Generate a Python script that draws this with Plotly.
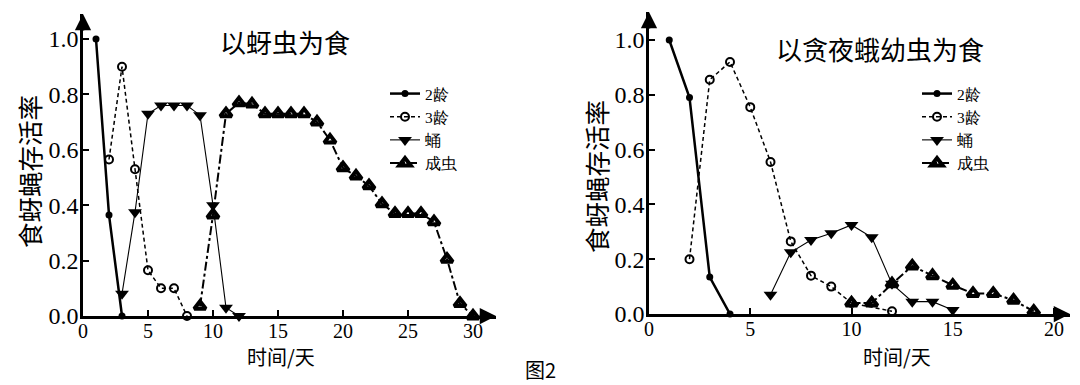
import plotly.graph_objects as go

# ---------------- data ----------------
# Left panel: fed on aphids (以蚜虫为食)
L_days_2 = [1, 2, 3]
L_vals_2 = [1.0, 0.365, 0.0]
L_days_3 = [2, 3, 4, 5, 6, 7, 8]
L_vals_3 = [0.565, 0.90, 0.53, 0.165, 0.10, 0.10, 0.0]
L_days_pupa = [3, 4, 5, 6, 7, 8, 9, 10, 11, 12]
L_vals_pupa = [0.08, 0.375, 0.73, 0.76, 0.76, 0.76, 0.725, 0.40, 0.03, 0.0]
L_days_adult = list(range(9, 31))
L_vals_adult = [0.035, 0.365, 0.73, 0.77, 0.765, 0.73, 0.73, 0.73, 0.73, 0.70, 0.635,
                0.535, 0.505, 0.47, 0.405, 0.37, 0.37, 0.37, 0.34, 0.205, 0.045, 0.0]

# Right panel: fed on fall armyworm larvae (以贪夜蛾幼虫为食)
R_days_2 = [1, 2, 3, 4]
R_vals_2 = [1.0, 0.79, 0.135, 0.0]
R_days_3 = [2, 3, 4, 5, 6, 7, 8, 9, 10, 12]
R_vals_3 = [0.2, 0.855, 0.92, 0.755, 0.555, 0.265, 0.14, 0.10, 0.04, 0.01]
R_days_pupa = [6, 7, 8, 9, 10, 11, 12, 13, 14, 15]
R_vals_pupa = [0.07, 0.225, 0.27, 0.295, 0.325, 0.28, 0.11, 0.045, 0.045, 0.015]
R_days_adult = [10, 11, 12, 13, 14, 15, 16, 17, 18, 19]
R_vals_adult = [0.04, 0.04, 0.11, 0.175, 0.14, 0.105, 0.075, 0.075, 0.05, 0.01]

series_names = ["2龄", "3龄", "蛹", "成虫"]
x_ticks_left = [0, 5, 10, 15, 20, 25, 30]
x_ticks_right = [0, 5, 10, 15, 20]
y_ticks = [0.0, 0.2, 0.4, 0.6, 0.8, 1.0]
titles = ["以蚜虫为食", "以贪夜蛾幼虫为食"]
y_label = "食蚜蝇存活率"
x_label = "时间/天"
fig_label = "图2"

# ---------------- styling ----------------
OFF = 8  # page body margin of the html page
W, H = 1080 - OFF, 385 - OFF
SERIF = "Liberation Serif"
CJK = "Noto Sans CJK SC"

styles = [
    dict(line=dict(color="black", width=2.5, dash="solid"),
         marker=dict(symbol="circle", size=7, color="black")),
    dict(line=dict(color="black", width=1.5, dash="4px,3px"),
         marker=dict(symbol="circle-open", size=8, color="black", line=dict(width=2, color="black"))),
    dict(line=dict(color="black", width=1.1, dash="solid"),
         marker=dict(symbol="triangle-down", size=12, color="black")),
    dict(line=dict(color="black", width=2, dash="dashdot"),
         marker=dict(symbol="triangle-up-open", size=10, color="black", line=dict(width=4, color="black"))),
]

fig = go.Figure()

left_data = [(L_days_2, L_vals_2), (L_days_3, L_vals_3), (L_days_pupa, L_vals_pupa), (L_days_adult, L_vals_adult)]
right_data = [(R_days_2, R_vals_2), (R_days_3, R_vals_3), (R_days_pupa, R_vals_pupa), (R_days_adult, R_vals_adult)]

for (xs, ys), name, st in zip(left_data, series_names, styles):
    fig.add_trace(go.Scatter(x=xs, y=ys, name=name, mode="lines+markers", xaxis="x", yaxis="y",
                             legend="legend", cliponaxis=False, **st))
for (xs, ys), name, st in zip(right_data, series_names, styles):
    fig.add_trace(go.Scatter(x=xs, y=ys, name=name, mode="lines+markers", xaxis="x2", yaxis="y2",
                             legend="legend2", cliponaxis=False, **st))


def px_x(p):
    return (p - OFF) / W


def px_y(p):
    return 1 - (p - OFF) / H


L_x0, L_ppd = 83, 13.0
L_xend = 496
L_y0, L_ppu, L_ytop = 316, 277.0, 14
R_x0, R_ppd = 649, 20.25
R_xend = 1070
R_y0, R_ppu, R_ytop = 314, 274.0, 12

base_axis = dict(showline=True, linecolor="black", showgrid=False, zeroline=False,
                 ticks="inside", tickcolor="black", tickwidth=2, ticklen=6, automargin=False)
xfont = dict(family=SERIF, size=20, color="black")
yfont = dict(family=SERIF, size=24, color="black")

fig.update_layout(
    width=W, height=H,
    margin=dict(l=0, r=0, t=0, b=0, autoexpand=False),
    paper_bgcolor="white", plot_bgcolor="white",
    xaxis=dict(domain=[px_x(L_x0), px_x(L_xend)], range=[0, (L_xend - L_x0) / L_ppd],
               tickvals=x_ticks_left, linewidth=3, anchor="y", tickfont=xfont,
               ticklabelstandoff=-5, **base_axis),
    yaxis=dict(domain=[px_y(L_y0), px_y(L_ytop)], range=[0, (L_y0 - L_ytop) / L_ppu],
               tickvals=y_ticks, tickformat=".1f", linewidth=2.5, anchor="x",
               ticklabelstandoff=-3, tickfont=yfont, **base_axis),
    xaxis2=dict(domain=[px_x(R_x0), px_x(R_xend)], range=[0, (R_xend - R_x0) / R_ppd],
                tickvals=x_ticks_right, linewidth=3, anchor="y2", tickfont=xfont,
                ticklabelstandoff=-5, **base_axis),
    yaxis2=dict(domain=[px_y(R_y0), px_y(R_ytop)], range=[0, (R_y0 - R_ytop) / R_ppu],
                tickvals=y_ticks, tickformat=".1f", linewidth=2.5, anchor="x2",
                ticklabelstandoff=-3, tickfont=yfont, **base_axis),
    legend=dict(x=px_x(385), y=px_y(77), xanchor="left", yanchor="top",
                bgcolor="rgba(0,0,0,0)", font=dict(family=SERIF, size=15.5, color="black"),
                itemwidth=30, tracegroupgap=0),
    legend2=dict(x=px_x(917), y=px_y(77), xanchor="left", yanchor="top",
                 bgcolor="rgba(0,0,0,0)", font=dict(family=SERIF, size=15.5, color="black"),
                 itemwidth=30, tracegroupgap=0),
    showlegend=True,
)


def label(text, x, y, size, angle=0):
    return dict(text=text, x=px_x(x), y=px_y(y), xref="paper", yref="paper",
                xanchor="center", yanchor="middle", textangle=angle, showarrow=False,
                font=dict(family=CJK, size=size, color="black"))


ann = [
    label(titles[0], 285, 41, 26),
    label(titles[1], 880, 49, 26),
    label(y_label, 28, 172, 25.5, -90),
    label(y_label, 595, 177, 25.5, -90),
    label(x_label, 281, 356, 20),
    label(x_label, 897, 356, 20),
    label(fig_label, 540, 369, 20),
]
for xr, yr in [("x domain", "y domain"), ("x2 domain", "y2 domain")]:
    ann.append(dict(x=1, y=0, xref=xr, yref=yr, ax=-18, ay=0, showarrow=True, text="",
                    arrowhead=2, arrowsize=1.3, arrowwidth=2.5, arrowcolor="black"))
    ann.append(dict(x=0, y=1, xref=xr, yref=yr, ax=0, ay=18, showarrow=True, text="",
                    arrowhead=2, arrowsize=1.3, arrowwidth=2.5, arrowcolor="black"))
fig.update_layout(annotations=ann)

fig.write_html("out.html")
